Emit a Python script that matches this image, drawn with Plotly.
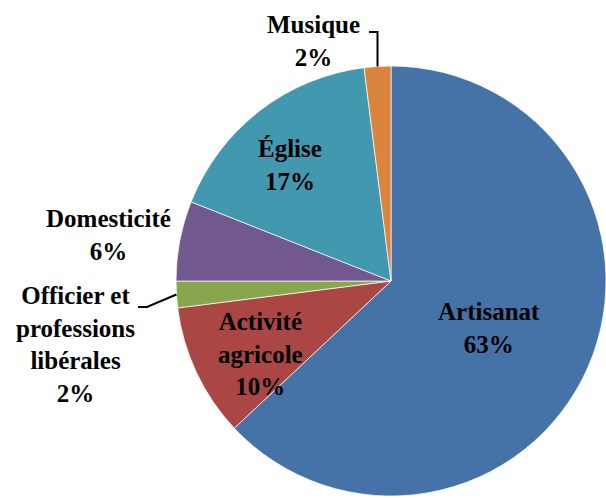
import numpy as np
import plotly.graph_objects as go

# Répartition des professions (en %), dans l'ordre horaire depuis midi
categories = ["Artisanat", "Activité agricole", "Officier et professions libérales",
              "Domesticité", "Église", "Musique"]
values = [63, 10, 2, 6, 17, 2]
label_lines = [["Artisanat"], ["Activité", "agricole"], ["Officier et", "professions", "libérales"],
               ["Domesticité"], ["Église"], ["Musique"]]
colors = ["#4572A7", "#AA4643", "#89A54E", "#71588F", "#4198AF", "#DB843D"]

W, H = 606, 498
CX, CY, R = 391, 281, 215          # centre et rayon du camembert (pixels)

# position des étiquettes (centre du bloc de texte, pixels)
label_pos = [(489, 328), (260, 354), (75, 344), (108, 235), (290, 165), (313, 41)]

FONT = dict(family="Liberation Serif", size=25, color="black", weight="bold")


def px_to_paper(x, y):
    return x / W, 1 - y / H


fig = go.Figure(go.Pie(
    labels=categories,
    values=values,
    sort=False,
    direction="clockwise",
    rotation=0,
    marker=dict(colors=colors, line=dict(color="rgba(255,255,255,0.7)", width=1)),
    textinfo="none",
    hoverinfo="label+percent",
    showlegend=False,
    domain=dict(x=[(CX - R) / W, min(1.0, (CX + R) / W)],
                y=[max(0.0, 1 - (CY + R) / H), 1 - (CY - R) / H]),
))

total = sum(values)
cum = np.cumsum([0] + values)

annotations = []
for lines, v, (lx, ly) in zip(label_lines, values, label_pos):
    pct = round(100 * v / total)
    text = "<br>".join(lines + [f"{pct}%"])
    ax, ay = px_to_paper(lx, ly)
    annotations.append(dict(x=ax, y=ay, xref="paper", yref="paper", text=text,
                            showarrow=False, xanchor="center", yanchor="middle",
                            font=FONT, align="center"))


def edge_point(i):
    """Point on the pie's rim at the middle of slice i (pixels)."""
    ang = np.deg2rad(360 * (cum[i] + values[i] / 2) / total)
    return CX + R * np.sin(ang), CY - R * np.cos(ang)


def leader_path(pts):
    coords = [px_to_paper(x, y) for x, y in pts]
    return "M " + " L ".join(f"{x},{y}" for x, y in coords)


shapes = []
# ligne de rappel « Musique »
ex, ey = edge_point(5)
shapes.append(dict(type="path", path=leader_path([(369, 32), (ex, 32), (ex, ey)]),
                   xref="paper", yref="paper", line=dict(color="black", width=2)))
# ligne de rappel « Officier et professions libérales »
ex, ey = edge_point(2)
shapes.append(dict(type="path", path=leader_path([(138, 307), (147, 307), (ex, ey)]),
                   xref="paper", yref="paper", line=dict(color="black", width=2)))

fig.update_layout(
    width=W, height=H,
    margin=dict(l=0, r=0, t=0, b=0),
    paper_bgcolor="white",
    plot_bgcolor="white",
    annotations=annotations,
    shapes=shapes,
)

fig.write_html("out.html")
